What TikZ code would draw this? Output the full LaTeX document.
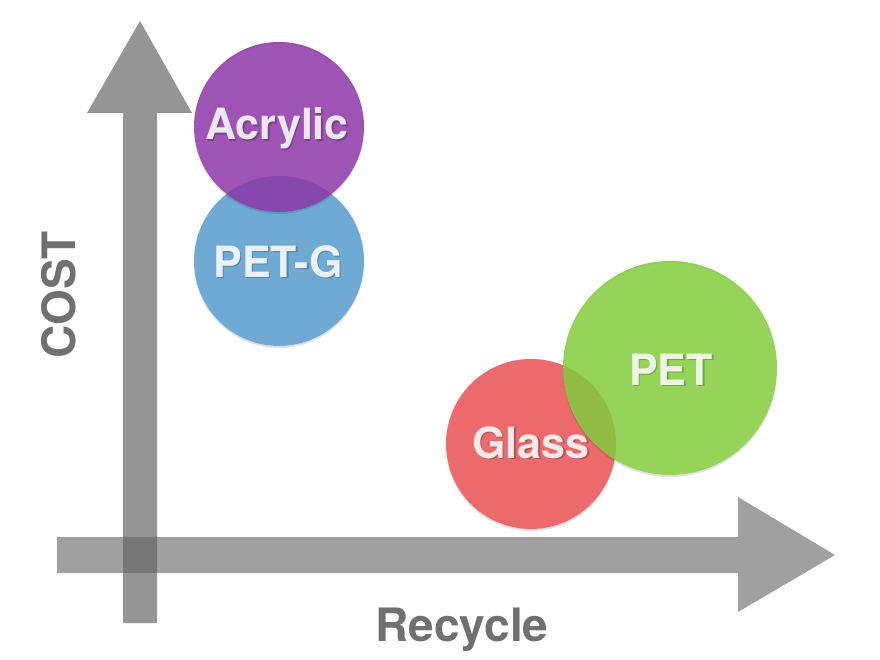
\documentclass[tikz,border=0pt]{standalone}
\usepackage{fontspec}
\setmainfont{TeX Gyre Heros}
\definecolor{arrowgray}{RGB}{100,100,100}
\definecolor{axislabel}{RGB}{112,112,112}
\definecolor{acrylicc}{RGB}{140,55,167}
\definecolor{petgc}{RGB}{110,170,212}
\definecolor{petc}{RGB}{131,204,61}
\definecolor{glassc}{RGB}{236,106,108}
\tikzset{
  bubble/.style={fill opacity=0.85},
  bubblelabel/.style={text=white, text opacity=0.88, anchor=base, inner sep=0pt,
     font=\fontsize{43}{43}\selectfont\bfseries},
  labelshadow/.style={text=black, text opacity=0.22, anchor=base, inner sep=0pt,
     font=\fontsize{43}{43}\selectfont\bfseries},
  axistext/.style={text=axislabel, anchor=base, inner sep=0pt,
     font=\fontsize{46}{46}\selectfont\bfseries},
  shadowring/.style={fill=black, opacity=0.12, even odd rule}
}
\begin{document}
\begin{tikzpicture}[x=1pt,y=-1pt]
\useasboundingbox (0,0) rectangle (880,660);
\fill[white] (0,0) rectangle (880,660);
% vertical axis arrow
\fill[arrowgray, opacity=0.68] (123,623) -- (123,113) -- (87,113) -- (140,21)
   -- (192,113) -- (157,113) -- (157,623) -- cycle;
% horizontal axis arrow
\fill[arrowgray, opacity=0.61] (57,537) -- (738,537) -- (738,497) -- (835,555)
   -- (738,612) -- (738,573) -- (57,573) -- cycle;
% axis labels
\node[axistext] (recycle) at (462,641) {Recycle};
\node[axistext, rotate=90] (cost) at (75,295) {COST};
% bubbles
\fill[shadowring] (279,263) circle (85) (279,261) circle (85);
\fill[petgc] (279,261) circle (85);
\fill[shadowring] (279,129) circle (85) (279,127) circle (85);
\fill[acrylicc, bubble] (279,127) circle (85);
\fill[shadowring] (531,446) circle (85) (531,444) circle (85);
\fill[glassc] (531,444) circle (85);
\fill[shadowring] (670,370) circle (107) (670,368) circle (107);
\fill[petc, bubble] (670,368) circle (107);
% labels
\node[labelshadow] at (278.5,141.5) {Acrylic};
\node[bubblelabel] (acrylic) at (277,140) {Acrylic};
\node[labelshadow] at (279.5,278.5) {PET-G};
\node[bubblelabel] (petg) at (278,277) {PET-G};
\node[labelshadow] at (672.5,386.5) {PET};
\node[bubblelabel] (pet) at (671,385) {PET};
\node[labelshadow] at (532.5,459.5) {Glass};
\node[bubblelabel] (glass) at (531,458) {Glass};
\end{tikzpicture}
\end{document}
